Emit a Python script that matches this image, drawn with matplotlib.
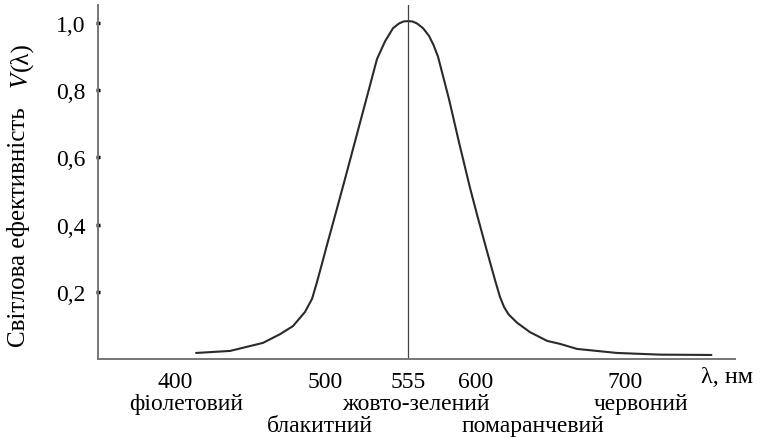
import matplotlib.pyplot as plt
from matplotlib import transforms

plt.rcParams['font.family'] = 'serif'
plt.rcParams['font.serif'] = ['Liberation Serif', 'DejaVu Serif']
FONT = 'Liberation Serif'

# curve: wavelength (nm) and relative efficiency
wavelength = [413.7, 436.3, 458.3, 469.7, 478.3, 486.3, 491.0, 494.3, 497.7, 501.0,
              505.0, 509.7, 513.7, 529.0, 534.3, 539.7, 545.0, 549.0, 552.0, 555.0,
              558.0, 561.0, 565.0, 569.0, 572.0, 575.0, 582.3, 589.0, 596.3, 601.0,
              607.7, 613.0, 616.3, 619.0, 622.0, 627.7, 636.3, 647.7, 656.3, 667.7,
              694.3, 723.0, 757.3]
efficiency = [0.018, 0.024, 0.048, 0.074, 0.098, 0.14, 0.179, 0.229, 0.285, 0.34,
              0.405, 0.482, 0.548, 0.804, 0.893, 0.946, 0.985, 0.999, 1.005, 1.006,
              1.005, 0.999, 0.985, 0.962, 0.935, 0.90, 0.774, 0.645, 0.51, 0.43,
              0.32, 0.235, 0.185, 0.155, 0.133, 0.108, 0.080, 0.054, 0.045, 0.030,
              0.018, 0.013, 0.012]

x_ticks = [400, 500, 555, 600, 700]
y_ticks = [0.2, 0.4, 0.6, 0.8, 1.0]
y_tick_labels = ['0,2', '0,4', '0,6', '0,8', '1,0']
peak_wl = 555

# colour names under the axis: (centre wavelength, row)
colour_names = ['фіолетовий', 'блакитний', 'жовто-зелений', 'помаранчевий', 'червоний']
colour_wl = [407, 496, 560, 638, 710]
colour_row = [0, 1, 0, 1, 0]

fig = plt.figure(figsize=(7.63, 4.39), dpi=100)
ax = fig.add_axes([98 / 763, 1 - 360 / 439, (735 - 98) / 763, 354 / 439])

ax.plot(wavelength, efficiency, color='#2a2a2a', lw=1.5,
        solid_capstyle='round', solid_joinstyle='round')
ax.axvline(peak_wl, color='#444444', lw=0.9)

ax.set_xlim(348.3, 773.0)
ax.set_ylim(0, 1.054)

for s in ['top', 'right']:
    ax.spines[s].set_visible(False)
for s in ['left', 'bottom']:
    ax.spines[s].set_color('#777777')
    ax.spines[s].set_linewidth(1.4)

ax.set_xticks(x_ticks)
ax.set_xticklabels([str(t) for t in x_ticks], fontfamily=FONT, fontsize=17)
ax.tick_params(axis='x', length=0, pad=9)
ax.set_yticks(y_ticks)
ax.set_yticklabels(y_tick_labels, fontfamily=FONT, fontsize=17)
ax.tick_params(axis='y', direction='inout', length=2.5, width=2.5,
               color='black', pad=8)

trans = transforms.blended_transform_factory(ax.transData, ax.transAxes)
row_y = [-0.127, -0.189]
for name, wl, row in zip(colour_names, colour_wl, colour_row):
    ax.text(wl, row_y[row], name, transform=trans, ha='center', va='center',
            fontsize=17, fontfamily=FONT)

fig.text(727 / 763, 1 - 378 / 439, 'λ, нм', ha='center', va='center',
         fontsize=17.5, fontfamily=FONT)

# y label in three pieces: plain text, italic V, then (λ)
fig.text(25 / 763, 1 - 347 / 439, 'Світлова ефективність', rotation=90,
         rotation_mode='anchor', ha='left', va='baseline',
         fontsize=18, fontfamily=FONT)
fig.text(27 / 763, 1 - 87 / 439, 'V', rotation=90, rotation_mode='anchor',
         ha='left', va='baseline', fontsize=18, fontfamily=FONT, fontstyle='italic')
fig.text(27 / 763, 1 - 71 / 439, '(λ)', rotation=90, rotation_mode='anchor',
         ha='left', va='baseline', fontsize=18, fontfamily=FONT)

fig.savefig('out.png', dpi=100)
